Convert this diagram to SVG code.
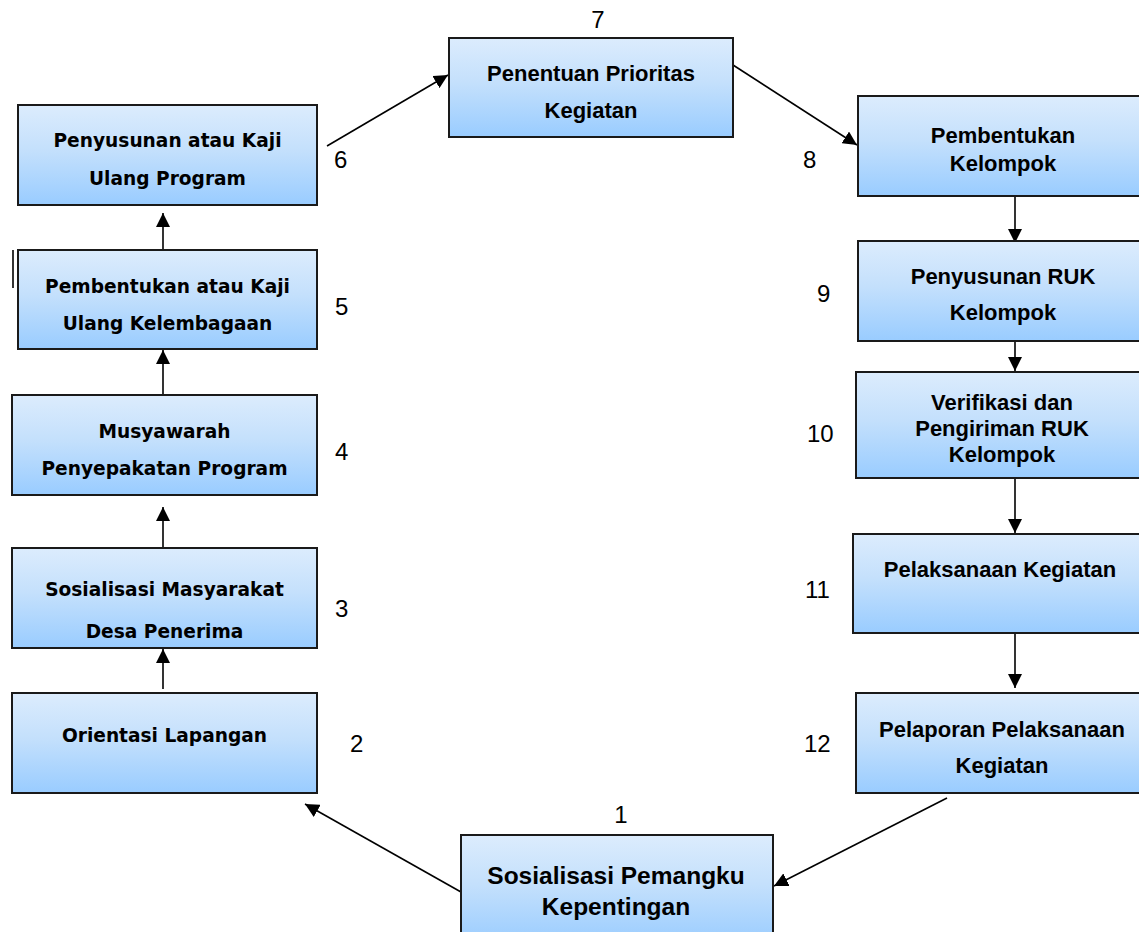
<svg xmlns="http://www.w3.org/2000/svg" width="1139" height="932" viewBox="0 0 1139 932">
<defs>
<linearGradient id="g" x1="0" y1="0" x2="0" y2="1">
<stop offset="0" stop-color="#DCECFD"/>
<stop offset="0.45" stop-color="#C4E0FC"/>
<stop offset="1" stop-color="#99CCFF"/>
</linearGradient>
<marker id="ah" viewBox="0 0 14 14" markerWidth="14" markerHeight="14" refX="14" refY="7" orient="auto" markerUnits="userSpaceOnUse">
<path d="M0,0 L14,7 L0,14 z" fill="#000"/>
</marker>
</defs>
<style>
.box{fill:url(#g);stroke:#1a1a1a;stroke-width:2}
.tl{font-family:"DejaVu Sans",sans-serif;font-weight:bold;font-size:18.6px;fill:#000;text-anchor:middle}
.tr{font-family:"Liberation Sans",Arial,sans-serif;font-weight:bold;font-size:22px;fill:#000;text-anchor:middle}
.num{font-family:"Liberation Sans",Arial,sans-serif;font-size:24px;fill:#000}
.c{stroke:#000;stroke-width:1.6;fill:none;marker-end:url(#ah)}
.bar{stroke:#000;stroke-width:1.6}
</style>

<g id="connectors">
<line class="c" x1="163" y1="689" x2="163" y2="649"/>
<line class="c" x1="163" y1="548" x2="163" y2="507"/>
<line class="c" x1="163" y1="395" x2="163" y2="350"/>
<line class="c" x1="163" y1="250" x2="163" y2="213"/>
<line class="c" x1="327" y1="146" x2="448" y2="75"/>
<line class="c" x1="733" y1="65" x2="857" y2="145"/>
<line class="c" x1="1015" y1="196" x2="1015" y2="243"/>
<line class="c" x1="1015" y1="341" x2="1015" y2="371"/>
<line class="c" x1="1015" y1="478" x2="1015" y2="533"/>
<line class="c" x1="1015" y1="633" x2="1015" y2="688"/>
<line class="c" x1="947" y1="798" x2="774" y2="886"/>
<line class="c" x1="461" y1="892" x2="305" y2="804"/>
<line class="bar" x1="13" y1="250" x2="13" y2="288"/>
<line class="bar" x1="13" y1="560" x2="13" y2="602"/>
</g>

<g id="node1">
<rect class="box" x="461" y="835" width="312" height="110"/>
<text class="tr" x="616" y="884" style="font-size:24.5px">Sosialisasi Pemangku</text>
<text class="tr" x="616" y="915" style="font-size:24.5px">Kepentingan</text>
<text class="num" x="621" y="823" text-anchor="middle">1</text>
</g>

<g id="node2">
<rect class="box" x="12" y="693" width="305" height="100"/>
<text class="tl" x="164.5" y="742">Orientasi Lapangan</text>
<text class="num" x="350" y="752">2</text>
</g>

<g id="node3">
<rect class="box" x="12" y="548" width="305" height="100"/>
<text class="tl" x="164.5" y="596">Sosialisasi Masyarakat</text>
<text class="tl" x="164.5" y="638">Desa Penerima</text>
<text class="num" x="335" y="617">3</text>
</g>

<g id="node4">
<rect class="box" x="12" y="395" width="305" height="100"/>
<text class="tl" x="164.5" y="438">Musyawarah</text>
<text class="tl" x="164.5" y="475">Penyepakatan Program</text>
<text class="num" x="335" y="460">4</text>
</g>

<g id="node5">
<rect class="box" x="18" y="250" width="299" height="99"/>
<text class="tl" x="167.5" y="293">Pembentukan atau Kaji</text>
<text class="tl" x="167.5" y="330">Ulang Kelembagaan</text>
<text class="num" x="335" y="315">5</text>
</g>

<g id="node6">
<rect class="box" x="18" y="105" width="299" height="100"/>
<text class="tl" x="167.5" y="147">Penyusunan atau Kaji</text>
<text class="tl" x="167.5" y="185">Ulang Program</text>
<text class="num" x="334" y="168">6</text>
</g>

<g id="node7">
<rect class="box" x="449" y="38" width="284" height="99"/>
<text class="tr" x="591" y="81">Penentuan Prioritas</text>
<text class="tr" x="591" y="118">Kegiatan</text>
<text class="num" x="598" y="28" text-anchor="middle">7</text>
</g>

<g id="node8">
<rect class="box" x="858" y="96" width="292" height="100"/>
<text class="tr" x="1003" y="143">Pembentukan</text>
<text class="tr" x="1003" y="171">Kelompok</text>
<text class="num" x="803" y="168">8</text>
</g>

<g id="node9">
<rect class="box" x="858" y="241" width="292" height="100"/>
<text class="tr" x="1003" y="284">Penyusunan RUK</text>
<text class="tr" x="1003" y="320">Kelompok</text>
<text class="num" x="817" y="302">9</text>
</g>

<g id="node10">
<rect class="box" x="856" y="372" width="294" height="106"/>
<text class="tr" x="1002" y="410">Verifikasi dan</text>
<text class="tr" x="1002" y="436">Pengiriman RUK</text>
<text class="tr" x="1002" y="462">Kelompok</text>
<text class="num" x="807" y="442">10</text>
</g>

<g id="node11">
<rect class="box" x="853" y="534" width="297" height="99"/>
<text class="tr" x="1000" y="577">Pelaksanaan Kegiatan</text>
<text class="num" x="805" y="598">11</text>
</g>

<g id="node12">
<rect class="box" x="856" y="693" width="294" height="100"/>
<text class="tr" x="1002" y="737">Pelaporan Pelaksanaan</text>
<text class="tr" x="1002" y="773">Kegiatan</text>
<text class="num" x="804" y="752">12</text>
</g>
</svg>
